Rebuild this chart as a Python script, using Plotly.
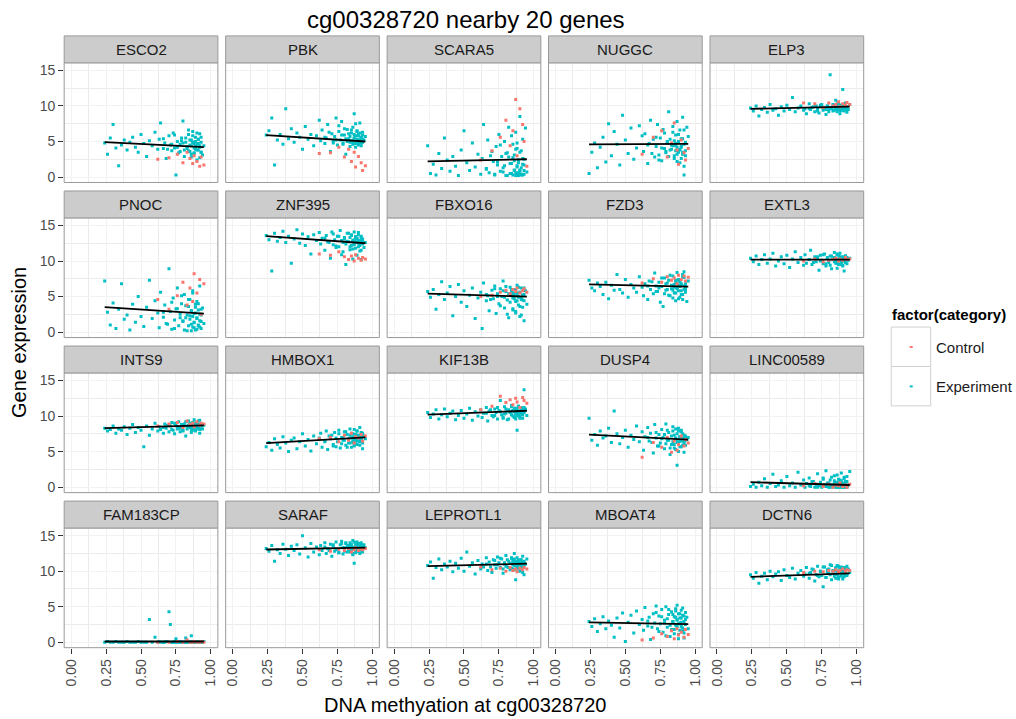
import plotly.graph_objects as go

# ---------------- data ----------------
genes = ["ESCO2", "PBK", "SCARA5", "NUGGC", "ELP3",
         "PNOC", "ZNF395", "FBXO16", "FZD3", "EXTL3",
         "INTS9", "HMBOX1", "KIF13B", "DUSP4", "LINC00589",
         "FAM183CP", "SARAF", "LEPROTL1", "MBOAT4", "DCTN6"]

# methylation at cg00328720 (shared by all genes)
exp_methylation = [0.24, 0.26, 0.28, 0.30, 0.32, 0.34, 0.36, 0.38, 0.40, 0.42,
                   0.44, 0.46, 0.48, 0.50, 0.52, 0.54, 0.56, 0.58, 0.60, 0.62,
                   0.63, 0.64, 0.66, 0.67, 0.68, 0.70, 0.71, 0.72, 0.73, 0.74,
                   0.75, 0.76, 0.77, 0.78, 0.79, 0.80, 0.81, 0.82, 0.83, 0.84,
                   0.85, 0.85, 0.86, 0.86, 0.87, 0.87, 0.88, 0.88, 0.89, 0.89,
                   0.90, 0.90, 0.91, 0.91, 0.92, 0.92, 0.93, 0.93, 0.94, 0.95,
                   0.66, 0.69, 0.72, 0.74, 0.76, 0.78, 0.79, 0.80, 0.81, 0.82,
                   0.83, 0.84, 0.84, 0.85, 0.86, 0.86, 0.87, 0.87, 0.88, 0.88,
                   0.89, 0.89, 0.90, 0.90, 0.91, 0.91, 0.92, 0.92, 0.93, 0.93]
ctrl_methylation = [0.62, 0.70, 0.76, 0.80, 0.83, 0.85, 0.87, 0.88, 0.90, 0.92, 0.93, 0.95]

ESCO2_exp = [4.8, 3.2, 5.5, 7.4, 4.1, 1.6, 4.5, 5.2, 3.8, 4.9,
             5.6, 4.2, 3.5, 6.0, 4.7, 2.9, 5.1, 4.4, 6.3, 3.9,
             5.3, 7.6, 4.0, 4.8, 2.6, 5.8, 4.5, 3.7, 6.2, 4.1,
             0.3, 5.0, 3.4, 4.6, 5.5, 7.9, 3.8, 4.9, 4.3, 6.0,
             3.6, 5.2, 4.4, 2.8, 4.9, 6.4, 3.3, 4.7, 5.6, 3.9,
             4.6, 2.4, 5.3, 3.8, 6.1, 4.2, 3.5, 4.9, 3.1, 4.4,
             5.4, 3.9, 4.6, 5.9, 4.2, 3.6, 5.1, 4.8, 2.9, 5.5,
             4.0, 6.6, 3.7, 4.5, 5.2, 3.2, 4.9, 5.8, 4.1, 3.4,
             5.0, 4.3, 6.2, 3.8, 4.7, 5.3, 2.7, 4.4, 5.6, 3.5]
ESCO2_ctrl = [2.5, 2.7, 3.2, 2.0, 3.5, 2.6, 1.9, 3.0, 2.2, 1.5, 2.8, 1.7]

PBK_exp = [5.9, 6.5, 8.3, 1.7, 5.2, 6.0, 4.6, 9.6, 5.4, 6.8,
           4.9, 6.2, 5.6, 3.9, 7.1, 5.3, 6.0, 4.4, 5.8, 8.0,
           5.1, 6.6, 4.7, 5.5, 7.4, 3.6, 6.1, 5.0, 5.7, 8.3,
           4.5, 6.4, 5.2, 7.8, 4.8, 5.9, 3.2, 6.7, 5.4, 4.9,
           6.2, 5.1, 7.0, 4.6, 5.5, 8.9, 4.2, 5.8, 6.5, 5.0,
           4.7, 6.0, 5.3, 7.6, 4.4, 5.6, 6.3, 4.9, 5.2, 5.7,
           5.6, 6.3, 4.8, 5.2, 7.2, 5.9, 4.6, 6.8, 5.4, 5.0,
           6.1, 4.3, 5.7, 6.6, 5.1, 4.9, 6.0, 5.5, 7.5, 4.7,
           5.3, 6.4, 5.8, 4.5, 5.1, 6.2, 4.8, 5.6, 5.9, 5.3]
PBK_ctrl = [3.3, 3.4, 4.2, 2.8, 3.9, 2.2, 3.5, 1.4, 2.9, 2.0, 0.9, 1.6]

SCARA5_exp = [4.4, 0.5, 1.8, 0.3, 3.3, 1.2, 5.5, 2.4, 0.8, 2.9,
              1.5, 0.2, 3.8, 6.5, 2.0, 0.9, 4.8, 1.4, 3.2, 0.4,
              2.6, 7.4, 1.1, 5.2, 0.6, 3.6, 2.2, 0.3, 4.3, 1.7,
              6.0, 0.8, 2.9, 1.3, 5.0, 0.2, 3.4, 7.0, 1.9, 0.5,
              2.7, 4.6, 0.9, 3.1, 0.2, 6.3, 1.6, 4.0, 0.6, 2.4,
              8.5, 1.0, 3.7, 0.3, 5.3, 1.8, 0.4, 2.5, 6.9, 0.7,
              1.2, 3.0, 0.4, 2.1, 4.5, 0.7, 1.6, 3.3, 0.2, 2.8,
              0.5, 1.9, 5.8, 0.3, 2.3, 1.0, 3.9, 0.6, 1.4, 4.8,
              0.2, 2.0, 0.8, 3.5, 0.4, 1.3, 2.6, 0.3, 1.7, 0.9]
SCARA5_ctrl = [2.4, 3.7, 5.6, 8.0, 4.4, 6.5, 10.9, 3.0, 9.6, 7.4, 5.0, 1.5]

NUGGC_exp = [0.5, 3.5, 4.8, 1.3, 4.2, 5.6, 2.1, 7.5, 3.0, 6.4,
             4.6, 1.7, 8.7, 5.2, 3.3, 6.9, 2.5, 4.1, 7.2, 5.8,
             3.6, 6.1, 1.9, 4.7, 8.0, 5.3, 2.8, 4.3, 7.4, 3.1,
             5.5, 2.3, 6.7, 4.0, 3.4, 5.0, 9.2, 3.8, 4.5, 6.3,
             2.6, 5.1, 3.7, 4.4, 7.8, 3.2, 4.9, 6.0, 2.0, 3.9,
             5.4, 4.2, 8.4, 3.5, 6.6, 0.3, 4.8, 3.0, 7.0, 5.7,
             4.5, 3.3, 5.6, 2.4, 4.1, 6.2, 3.6, 4.8, 2.9, 5.3,
             3.9, 4.4, 7.1, 3.0, 4.7, 5.9, 2.2, 4.2, 3.5, 5.0,
             6.6, 3.8, 4.3, 2.6, 5.4, 3.2, 4.6, 1.5, 3.7, 4.9]
NUGGC_ctrl = [3.2, 5.6, 6.5, 2.8, 4.8, 7.6, 3.8, 1.8, 5.2, 3.4, 2.4, 4.0]

ELP3_exp = [9.7, 9.3, 10.0, 8.6, 9.5, 9.8, 9.1, 10.2, 9.4, 9.6,
            8.7, 9.9, 9.3, 10.1, 9.5, 11.2, 9.2, 9.7, 10.0, 9.4,
            9.6, 8.9, 10.3, 9.5, 9.8, 9.2, 10.0, 9.6, 9.0, 9.9,
            10.2, 9.4, 9.7, 8.8, 10.0, 9.5, 14.4, 9.8, 9.3, 10.1,
            9.6, 10.8, 9.2, 9.9, 10.3, 9.5, 8.9, 9.7, 10.1, 9.4,
            9.8, 12.3, 9.3, 10.0, 9.6, 10.4, 9.1, 9.9, 9.5, 10.2,
            9.6, 9.9, 9.3, 10.1, 9.7, 9.5, 10.0, 9.2, 9.8, 9.6,
            10.2, 9.4, 9.9, 9.7, 10.3, 9.5, 9.8, 10.0, 9.3, 9.7,
            9.9, 10.1, 9.6, 9.4, 10.0, 9.8, 9.5, 10.2, 9.7, 9.9]
ELP3_ctrl = [10.4, 10.3, 9.8, 10.4, 10.0, 10.2, 10.6, 9.9, 10.3, 10.1, 10.5, 10.2]

PNOC_exp = [7.2, 2.8, 1.0, 4.1, 0.5, 3.2, 6.8, 1.8, 2.4, 0.3,
            3.9, 1.4, 5.0, 2.2, 0.8, 3.5, 7.3, 1.9, 4.4, 2.7,
            0.6, 5.6, 2.1, 3.8, 1.2, 8.9, 2.9, 0.4, 4.8, 1.7,
            3.3, 6.2, 0.9, 2.5, 4.0, 1.5, 5.3, 2.0, 0.2, 3.6,
            2.3, 4.6, 1.1, 3.0, 0.7, 5.8, 2.6, 1.4, 3.9, 0.3,
            2.0, 4.3, 0.9, 3.1, 1.6, 6.5, 2.4, 0.5, 3.4, 1.2,
            2.8, 1.1, 4.2, 0.5, 3.3, 2.0, 5.1, 1.6, 0.3, 3.7,
            2.4, 0.9, 4.6, 1.8, 0.2, 3.0, 2.2, 5.5, 1.3, 0.6,
            3.5, 2.7, 0.4, 1.9, 4.0, 1.0, 2.5, 0.7, 3.2, 1.5]
PNOC_ctrl = [4.6, 3.2, 5.1, 7.0, 3.8, 6.2, 4.3, 8.2, 5.5, 7.4, 2.5, 6.8]

ZNF395_exp = [13.6, 13.0, 8.6, 13.9, 12.8, 13.3, 14.2, 12.6, 13.5, 9.7,
              13.1, 14.4, 12.5, 13.8, 12.2, 13.4, 11.0, 13.7, 12.9, 14.0,
              12.4, 13.2, 11.5, 13.6, 12.7, 10.4, 14.1, 12.3, 13.0, 11.9,
              13.5, 12.0, 14.3, 10.9, 12.6, 13.3, 9.5, 12.8, 13.9, 11.6,
              12.2, 13.7, 12.9, 10.3, 14.1, 12.5, 13.4, 11.8, 12.7, 13.2,
              12.0, 14.0, 11.4, 12.8, 13.5, 10.2, 12.4, 13.1, 11.9, 12.6,
              13.2, 12.6, 13.8, 12.1, 13.5, 12.9, 11.3, 13.1, 12.4, 13.9,
              12.7, 13.3, 12.0, 13.6, 12.8, 11.7, 13.0, 12.3, 13.4, 12.6,
              10.8, 13.1, 12.5, 13.7, 12.2, 12.9, 13.3, 11.5, 12.7, 13.0]
ZNF395_ctrl = [11.0, 10.8, 11.3, 10.6, 10.2, 10.7, 10.0, 10.9, 10.4, 10.1, 10.5, 10.3]

FBXO16_exp = [5.7, 4.9, 6.0, 3.2, 5.3, 7.1, 4.6, 5.5, 6.4, 2.3,
              5.0, 6.7, 4.2, 5.8, 3.6, 5.2, 6.2, 1.9, 4.8, 5.6,
              0.5, 6.9, 4.4, 5.1, 3.0, 5.9, 4.7, 6.5, 2.6, 5.4,
              4.0, 6.1, 5.0, 7.2, 3.4, 5.7, 4.5, 2.0, 6.3, 5.3,
              4.8, 3.1, 6.0, 5.5, 2.7, 4.3, 6.6, 5.1, 3.8, 4.9,
              5.6, 2.2, 4.6, 6.2, 3.5, 5.2, 1.6, 4.4, 5.8, 3.9,
              5.3, 4.6, 6.1, 5.0, 3.7, 5.8, 4.9, 6.4, 2.5, 5.4,
              4.2, 5.7, 6.0, 3.3, 5.1, 4.7, 5.9, 2.9, 5.5, 4.4,
              6.3, 5.0, 3.6, 5.6, 4.8, 2.4, 5.2, 4.5, 6.2, 5.3]
FBXO16_ctrl = [5.0, 5.2, 5.6, 5.9, 5.4, 6.0, 5.7, 6.2, 5.5, 5.8, 6.1, 5.6]

FZD3_exp = [7.3, 6.2, 5.8, 6.9, 6.4, 5.3, 7.0, 4.7, 6.6, 5.9,
            8.1, 6.0, 5.5, 7.4, 4.9, 6.7, 6.2, 5.6, 7.8, 6.3,
            5.1, 6.8, 4.6, 7.2, 6.0, 5.4, 8.3, 6.5, 5.7, 7.0,
            4.2, 6.4, 3.6, 7.6, 5.9, 6.9, 5.2, 8.0, 6.1, 4.8,
            6.7, 5.5, 7.3, 4.4, 6.2, 8.4, 5.8, 6.6, 4.9, 7.1,
            5.3, 6.8, 7.7, 4.6, 6.0, 8.5, 5.6, 6.4, 4.3, 7.2,
            6.5, 7.1, 5.7, 6.2, 7.6, 5.4, 6.8, 6.0, 7.3, 5.1,
            6.6, 7.9, 5.9, 6.3, 7.0, 5.5, 6.9, 6.1, 7.4, 4.7,
            6.4, 7.2, 5.8, 6.7, 8.1, 5.3, 6.5, 7.7, 6.0, 6.8]
FZD3_ctrl = [6.9, 7.5, 7.0, 7.8, 7.3, 7.6, 6.8, 8.0, 7.4, 7.9, 7.2, 7.7]

EXTL3_exp = [10.4, 9.9, 10.7, 9.5, 10.2, 10.9, 9.7, 10.3, 11.1, 9.3,
             10.0, 10.6, 9.6, 10.8, 9.1, 10.3, 11.3, 9.8, 10.5, 9.4,
             10.9, 9.7, 10.2, 11.5, 9.5, 10.6, 9.9, 10.4, 8.7, 10.8,
             10.1, 9.6, 11.0, 9.3, 10.5, 9.8, 10.7, 8.9, 10.3, 11.2,
             9.7, 10.4, 9.0, 10.9, 10.0, 9.5, 10.6, 11.1, 9.8, 10.2,
             10.5, 9.4, 10.0, 8.6, 10.7, 9.9, 10.3, 9.6, 10.1, 10.4,
             10.2, 9.8, 10.6, 10.0, 10.9, 9.6, 10.4, 10.1, 9.4, 10.7,
             10.3, 9.9, 10.5, 10.0, 11.0, 9.7, 10.2, 10.8, 9.5, 10.4,
             10.1, 9.9, 10.6, 9.3, 10.3, 10.0, 10.7, 9.8, 10.2, 10.5]
EXTL3_ctrl = [10.0, 10.3, 9.9, 10.1, 10.2, 10.4, 10.0, 10.3, 10.1, 10.5, 10.2, 10.3]

INTS9_exp = [8.3, 7.9, 8.1, 8.6, 7.6, 8.2, 8.0, 8.5, 7.4, 8.3,
             8.8, 7.7, 8.4, 8.0, 5.7, 8.6, 7.3, 8.2, 9.0, 7.9,
             8.5, 8.1, 7.6, 8.9, 8.3, 7.8, 8.6, 9.1, 8.0, 7.5,
             8.7, 8.2, 9.2, 7.8, 8.5, 8.0, 8.9, 7.2, 8.6, 9.3,
             8.4, 8.8, 7.7, 9.0, 8.2, 8.6, 9.5, 8.0, 8.7, 7.9,
             8.5, 9.1, 8.3, 8.8, 7.6, 9.4, 8.6, 8.9, 8.2, 8.7,
             8.4, 8.7, 8.1, 9.0, 8.5, 8.3, 8.8, 7.9, 8.6, 9.2,
             8.2, 8.7, 8.5, 8.9, 8.0, 8.6, 9.1, 8.3, 8.8, 8.4,
             9.0, 8.6, 8.2, 8.9, 8.5, 9.3, 8.7, 8.1, 8.8, 8.6]
INTS9_ctrl = [8.6, 8.9, 9.1, 8.4, 9.3, 8.8, 9.0, 8.5, 9.2, 8.7, 9.0, 8.9]

HMBOX1_exp = [5.7, 6.3, 5.2, 6.8, 6.0, 5.5, 7.1, 6.2, 5.0, 6.6,
              6.9, 5.4, 6.4, 7.5, 5.8, 6.7, 5.1, 7.2, 6.1, 6.9,
              7.6, 5.6, 6.5, 7.9, 5.3, 6.8, 7.3, 6.0, 7.7, 5.7,
              6.4, 8.0, 5.5, 7.0, 6.6, 7.8, 5.9, 7.4, 6.2, 8.2,
              6.9, 5.6, 7.5, 6.3, 8.1, 5.8, 7.1, 6.6, 7.9, 6.0,
              7.3, 6.5, 8.4, 5.9, 7.0, 6.7, 7.6, 5.4, 7.2, 6.8,
              6.4, 7.2, 5.8, 6.9, 7.5, 6.1, 7.0, 6.6, 7.8, 5.6,
              6.8, 7.3, 6.2, 7.6, 6.5, 7.1, 5.9, 6.7, 7.4, 6.3,
              7.9, 6.0, 7.2, 6.6, 7.0, 6.4, 7.7, 6.8, 6.2, 7.3]
HMBOX1_ctrl = [6.8, 7.0, 6.4, 7.3, 6.6, 7.6, 6.2, 7.1, 6.9, 7.4, 6.5, 7.2]

KIF13B_exp = [10.5, 9.8, 10.3, 10.9, 9.6, 10.2, 11.0, 9.9, 10.4, 10.7,
              9.5, 10.1, 10.8, 9.7, 10.3, 11.1, 9.4, 10.6, 10.0, 10.9,
              9.8, 10.4, 11.2, 9.3, 10.7, 10.1, 9.9, 11.0, 10.5, 9.6,
              10.8, 12.2, 10.2, 9.7, 11.3, 10.4, 9.5, 10.9, 10.6, 11.5,
              10.0, 10.7, 9.8, 11.1, 10.4, 9.6, 8.0, 10.9, 10.2, 11.4,
              10.6, 9.9, 11.2, 10.3, 10.8, 9.7, 13.7, 10.5, 11.0, 10.1,
              10.4, 10.9, 10.1, 11.2, 10.6, 9.8, 10.3, 11.0, 10.7, 9.6,
              10.5, 11.3, 10.2, 10.8, 9.9, 10.6, 11.1, 10.3, 10.9, 10.0,
              11.4, 10.4, 10.7, 9.7, 10.5, 11.0, 10.2, 10.8, 10.6, 11.2]
KIF13B_ctrl = [10.9, 11.4, 12.8, 11.9, 12.3, 11.6, 12.5, 12.0, 11.2, 12.6, 12.2, 11.8]

DUSP4_exp = [9.7, 6.6, 7.4, 5.9, 7.9, 6.9, 7.2, 8.3, 6.3, 10.7,
             7.5, 6.1, 7.0, 8.0, 5.6, 7.3, 6.7, 8.6, 6.4, 7.8,
             5.2, 7.1, 8.4, 6.5, 7.6, 4.8, 8.8, 6.9, 5.8, 7.4,
             6.2, 8.1, 7.0, 5.4, 8.9, 6.6, 7.7, 4.6, 6.0, 8.5,
             7.3, 5.5, 6.8, 8.2, 3.1, 6.3, 7.9, 5.0, 7.1, 6.5,
             8.0, 5.7, 6.9, 7.5, 4.9, 6.4, 7.2, 5.9, 6.7, 7.0,
             7.0, 6.3, 7.7, 5.8, 6.8, 7.4, 6.1, 8.0, 6.6, 5.5,
             7.2, 6.4, 7.9, 6.0, 6.9, 5.3, 7.5, 6.7, 8.3, 6.2,
             5.7, 7.1, 6.5, 7.8, 5.9, 6.8, 7.3, 6.1, 6.6, 7.0]
DUSP4_ctrl = [4.2, 6.3, 5.6, 7.0, 4.9, 6.5, 5.2, 6.0, 7.2, 5.8, 6.7, 6.2]

LINC00589_exp = [0.1, 0.4, 0.0, 0.7, 0.2, 1.2, 0.0, 0.5, 1.8, 0.1,
                 0.3, 0.9, 0.0, 1.5, 0.2, 0.6, 0.0, 2.1, 0.3, 1.0,
                 0.0, 0.5, 1.3, 0.1, 0.8, 0.0, 0.4, 1.9, 0.2, 0.7,
                 0.0, 1.1, 0.3, 2.3, 0.1, 0.6, 0.0, 1.4, 0.2, 0.9,
                 0.0, 0.4, 1.7, 0.1, 0.6, 0.0, 1.0, 0.3, 2.0, 0.0,
                 0.5, 0.1, 1.2, 0.0, 0.8, 0.2, 0.0, 1.5, 0.3, 2.2,
                 0.2, 0.8, 0.0, 0.4, 1.3, 0.1, 0.6, 0.0, 1.0, 0.3,
                 0.0, 0.5, 1.6, 0.2, 0.0, 0.7, 0.3, 1.1, 0.0, 0.4,
                 0.9, 0.1, 0.0, 0.6, 1.4, 0.2, 0.0, 0.5, 0.8, 0.1]
LINC00589_ctrl = [0.2, 0.5, 0.1, 0.4, 0.0, 0.3, 0.2, 0.6, 0.1, 0.3, 0.0, 0.4]

FAM183CP_exp = [0.0, 0.1, 0.0, 0.0, 0.1, 0.0, 0.0, 0.0, 0.1, 0.0,
                0.0, 0.0, 0.1, 0.0, 0.0, 0.0, 3.2, 0.0, 0.7, 0.0,
                0.1, 0.0, 0.0, 0.0, 0.1, 4.3, 2.5, 0.0, 0.0, 0.1,
                0.5, 0.0, 0.0, 0.1, 0.0, 0.0, 0.0, 0.6, 0.0, 0.0,
                0.0, 0.1, 0.0, 0.9, 0.0, 0.0, 0.1, 0.0, 0.0, 0.0,
                0.0, 0.0, 0.1, 0.0, 0.0, 0.1, 0.0, 0.0, 0.0, 0.1,
                0.0, 0.1, 0.0, 0.0, 0.0, 0.1, 0.0, 0.0, 0.0, 0.0,
                0.1, 0.0, 0.0, 0.0, 0.0, 0.0, 0.1, 0.0, 0.0, 0.0,
                0.0, 0.0, 0.1, 0.0, 0.0, 0.0, 0.0, 0.1, 0.0, 0.0]
FAM183CP_ctrl = [0.0, 0.0, 0.1, 0.0, 0.3, 0.0, 0.0, 0.1, 0.0, 0.0, 0.1, 0.0]

SARAF_exp = [13.2, 12.8, 13.6, 11.4, 13.0, 12.5, 13.8, 13.1, 12.2, 13.5,
             12.9, 13.7, 12.4, 15.0, 13.3, 12.0, 13.9, 12.7, 13.4, 12.3,
             13.6, 12.9, 14.0, 12.5, 13.2, 13.8, 12.1, 13.5, 12.8, 14.1,
             13.0, 12.6, 13.7, 14.2, 12.4, 13.3, 13.9, 12.7, 13.6, 14.0,
             12.9, 13.5, 12.3, 14.3, 13.1, 11.1, 13.8, 12.6, 13.4, 14.1,
             13.2, 12.8, 13.9, 12.5, 13.6, 14.0, 13.0, 12.7, 13.7, 13.3,
             13.4, 12.9, 13.7, 13.1, 12.6, 13.9, 13.3, 12.8, 14.0, 13.5,
             13.0, 13.6, 12.7, 13.8, 13.2, 12.5, 13.4, 14.1, 12.9, 13.3,
             13.7, 12.8, 13.1, 13.9, 12.6, 13.5, 13.0, 13.8, 12.9, 13.4]
SARAF_ctrl = [13.0, 12.8, 13.1, 12.9, 13.2, 12.7, 13.0, 13.3, 12.9, 13.1, 13.0, 13.2]

LEPROTL1_exp = [10.8, 11.3, 9.0, 10.5, 11.7, 10.2, 11.0, 10.6, 11.4, 9.9,
                11.1, 10.4, 11.8, 10.0, 12.7, 10.7, 11.2, 9.6, 11.5, 10.3,
                11.0, 10.6, 11.9, 10.1, 11.3, 9.8, 11.6, 10.9, 10.4, 12.0,
                11.2, 10.5, 11.7, 9.7, 11.0, 12.2, 10.6, 11.4, 10.2, 11.8,
                10.9, 11.5, 10.3, 12.5, 8.8, 11.1, 10.7, 11.9, 10.4, 11.3,
                11.6, 10.0, 11.2, 10.8, 12.1, 10.5, 11.4, 9.5, 11.0, 11.7,
                11.0, 10.6, 11.5, 10.9, 11.8, 10.3, 11.2, 10.7, 11.6, 10.5,
                11.1, 11.9, 10.4, 11.3, 10.8, 11.7, 10.2, 11.4, 11.0, 10.6,
                11.5, 10.9, 11.2, 10.1, 11.6, 10.7, 11.3, 9.8, 11.1, 10.8]
LEPROTL1_ctrl = [10.6, 10.2, 10.4, 10.0, 10.5, 10.1, 10.3, 9.9, 10.4, 10.2, 10.5, 10.3]

MBOAT4_exp = [2.9, 2.2, 3.3, 1.5, 2.6, 3.6, 1.9, 3.0, 2.4, 0.7,
              3.4, 2.0, 4.1, 0.1, 2.8, 3.8, 1.3, 4.4, 2.5, 3.2,
              1.7, 4.9, 2.3, 3.5, 0.4, 4.0, 2.7, 5.1, 1.9, 3.7,
              2.6, 4.6, 1.4, 3.1, 5.0, 2.1, 3.9, 0.8, 4.3, 2.9,
              3.6, 1.8, 4.7, 2.4, 3.2, 5.2, 1.1, 4.0, 2.7, 3.4,
              2.2, 4.5, 1.6, 3.8, 2.9, 0.6, 4.2, 2.5, 3.5, 1.9,
              3.0, 2.1, 4.2, 1.5, 3.6, 2.7, 0.9, 3.3, 4.6, 2.4,
              1.8, 3.9, 2.9, 1.2, 3.5, 4.4, 2.2, 3.1, 0.5, 2.6,
              4.0, 1.7, 3.4, 2.8, 4.8, 2.0, 3.7, 1.3, 2.5, 3.2]
MBOAT4_ctrl = [0.3, 0.6, 1.2, 0.8, 1.6, 0.5, 1.9, 1.0, 1.4, 0.7, 1.8, 1.1]

DCTN6_exp = [9.5, 9.0, 9.8, 8.3, 9.3, 9.7, 8.8, 10.0, 9.2, 9.6,
             9.9, 8.7, 10.2, 9.4, 9.1, 10.4, 8.9, 9.7, 10.1, 9.3,
             9.6, 10.5, 9.0, 9.8, 10.3, 8.6, 9.5, 10.7, 9.2, 10.0,
             9.4, 7.8, 10.6, 9.1, 10.2, 9.7, 10.9, 8.8, 10.1, 9.6,
             10.3, 9.0, 10.8, 9.5, 10.0, 8.9, 10.4, 9.8, 10.6, 9.3,
             10.1, 9.6, 10.5, 9.2, 10.2, 9.9, 10.7, 9.4, 10.3, 9.8,
             9.7, 10.2, 9.4, 10.0, 10.6, 9.1, 9.8, 10.3, 9.5, 10.8,
             9.9, 10.1, 9.3, 10.5, 9.6, 10.0, 10.7, 9.2, 9.9, 10.4,
             9.7, 10.2, 8.9, 10.1, 9.8, 10.5, 9.4, 10.0, 10.3, 9.6]
DCTN6_ctrl = [9.8, 10.0, 9.9, 10.1, 10.0, 10.2, 9.9, 10.1, 10.3, 10.0, 10.2, 10.1]

# linear fit (lm) line ends, at methylation 0.24 and 0.95
fit_x = [0.24, 0.95]
fit_start = [4.9, 5.9, 2.2, 4.6, 9.6, 3.5, 13.5, 5.4, 6.7, 10.2,
             8.3, 6.2, 10.2, 7.4, 0.7, 0.1, 13.05, 10.7, 2.8, 9.2]
fit_end = [4.2, 5.0, 2.5, 4.65, 9.9, 2.6, 12.5, 5.0, 6.4, 10.2,
           8.7, 7.0, 10.75, 6.7, 0.3, 0.1, 13.3, 11.05, 2.55, 9.7]

exp_series = [ESCO2_exp, PBK_exp, SCARA5_exp, NUGGC_exp, ELP3_exp,
              PNOC_exp, ZNF395_exp, FBXO16_exp, FZD3_exp, EXTL3_exp,
              INTS9_exp, HMBOX1_exp, KIF13B_exp, DUSP4_exp, LINC00589_exp,
              FAM183CP_exp, SARAF_exp, LEPROTL1_exp, MBOAT4_exp, DCTN6_exp]
ctrl_series = [ESCO2_ctrl, PBK_ctrl, SCARA5_ctrl, NUGGC_ctrl, ELP3_ctrl,
               PNOC_ctrl, ZNF395_ctrl, FBXO16_ctrl, FZD3_ctrl, EXTL3_ctrl,
               INTS9_ctrl, HMBOX1_ctrl, KIF13B_ctrl, DUSP4_ctrl, LINC00589_ctrl,
               FAM183CP_ctrl, SARAF_ctrl, LEPROTL1_ctrl, MBOAT4_ctrl, DCTN6_ctrl]
for g, e, c in zip(genes, exp_series, ctrl_series):
    assert len(e) == len(exp_methylation), (g, len(e))
    assert len(c) == len(ctrl_methylation), (g, len(c))

x_ticks = [0, 0.25, 0.5, 0.75, 1.0]
x_tick_labels = ["0.00", "0.25", "0.50", "0.75", "1.00"]
y_ticks = [0, 5, 10, 15]

# ---------------- layout ----------------
W, H = 1016, 719
FONT = "Liberation Sans, Arial, sans-serif"
EXP_COL = "#00BFC4"
CTRL_COL = "#F8766D"
BORDER = "#999999"

col_left = [63.3, 225.1, 386.9, 548.6, 710.4]
panel_w = 154
strip_top = [36, 191.5, 347, 502.5]
strip_h = 27
panel_h = 120

fig = go.Figure()
shapes, annotations = [], []
axes = {}

for i, gene in enumerate(genes):
    r, c = divmod(i, 5)
    k = i + 1
    sfx = "" if k == 1 else str(k)
    xref, yref = "x" + sfx, "y" + sfx
    px0 = col_left[c]
    px1 = px0 + panel_w
    st = strip_top[r]
    py0 = st + strip_h
    py1 = py0 + panel_h

    bottom_row = (r == 3)
    left_col = (c == 0)
    axes["xaxis" + sfx] = dict(
        domain=[px0 / W, px1 / W], anchor=yref, range=[-0.05, 1.05],
        tickvals=x_ticks, ticktext=x_tick_labels, showticklabels=bottom_row,
        tickangle=-90, ticks="outside" if bottom_row else "", ticklen=5,
        tickwidth=1, tickcolor="#333333",
        tickfont=dict(family=FONT, size=14, color="#4D4D4D"),
        showgrid=True, gridcolor="#F2F2F2", gridwidth=1,
        minor=dict(tickvals=[0.125, 0.375, 0.625, 0.875], showgrid=True,
                   gridcolor="#EBEBEB", gridwidth=1),
        zeroline=False, showline=False, fixedrange=True)
    axes["yaxis" + sfx] = dict(
        domain=[1 - py1 / H, 1 - py0 / H], anchor=xref, range=[-0.77, 16.07],
        tickvals=y_ticks, showticklabels=left_col,
        ticks="outside" if left_col else "", ticklen=5, tickwidth=1,
        tickcolor="#333333",
        tickfont=dict(family=FONT, size=14, color="#4D4D4D"),
        showgrid=True, gridcolor="#F2F2F2", gridwidth=1,
        minor=dict(tickvals=[2.5, 7.5, 12.5], showgrid=True,
                   gridcolor="#EBEBEB", gridwidth=1),
        zeroline=False, showline=False, fixedrange=True)

    fig.add_trace(go.Scatter(
        x=exp_methylation, y=exp_series[i], xaxis=xref, yaxis=yref,
        mode="markers", showlegend=False, hoverinfo="skip",
        marker=dict(symbol="square", size=3, color=EXP_COL, line=dict(width=0))))
    fig.add_trace(go.Scatter(
        x=ctrl_methylation, y=ctrl_series[i], xaxis=xref, yaxis=yref,
        mode="markers", showlegend=False, hoverinfo="skip",
        marker=dict(symbol="square", size=3, color=CTRL_COL, line=dict(width=0))))
    fig.add_trace(go.Scatter(
        x=fit_x, y=[fit_start[i], fit_end[i]], xaxis=xref, yaxis=yref,
        mode="lines", showlegend=False, hoverinfo="skip",
        line=dict(color="black", width=1.8)))

    # panel border
    shapes.append(dict(type="rect", xref="paper", yref="paper",
                       x0=px0 / W, x1=px1 / W, y0=1 - py1 / H, y1=1 - py0 / H,
                       line=dict(color=BORDER, width=1), layer="above"))
    # strip
    shapes.append(dict(type="rect", xref="paper", yref="paper",
                       x0=px0 / W, x1=px1 / W, y0=1 - py0 / H, y1=1 - st / H,
                       fillcolor="#CCCCCC", line=dict(color=BORDER, width=1),
                       layer="above"))
    annotations.append(dict(text=gene, xref="paper", yref="paper",
                            x=(px0 + px1) / 2 / W, y=1 - (st + strip_h / 2) / H,
                            xanchor="center", yanchor="middle", showarrow=False,
                            font=dict(family=FONT, size=15, color="#1A1A1A")))

# titles
annotations.append(dict(text="cg00328720 nearby 20 genes", xref="paper", yref="paper",
                        x=466 / W, y=1 - 20 / H, xanchor="center", yanchor="middle",
                        showarrow=False, font=dict(family=FONT, size=24, color="black")))
annotations.append(dict(text="DNA methyation at cg00328720", xref="paper", yref="paper",
                        x=465 / W, y=1 - 707 / H, xanchor="center", yanchor="middle",
                        showarrow=False, font=dict(family=FONT, size=20, color="black")))
annotations.append(dict(text="Gene expression", xref="paper", yref="paper",
                        x=18 / W, y=1 - 343 / H, xanchor="center", yanchor="middle",
                        textangle=-90, showarrow=False,
                        font=dict(family=FONT, size=20, color="black")))

# legend (drawn manually)
annotations.append(dict(text="<b>factor(category)</b>", xref="paper", yref="paper",
                        x=891 / W, y=1 - 315 / H, xanchor="left", yanchor="middle",
                        showarrow=False, font=dict(family=FONT, size=15, color="black")))
legend_items = [("Control", CTRL_COL, 328), ("Experiment", EXP_COL, 367.5)]
for label, col, top in legend_items:
    shapes.append(dict(type="rect", xref="paper", yref="paper",
                       x0=892 / W, x1=931.5 / W, y0=1 - (top + 39.5) / H, y1=1 - top / H,
                       fillcolor="white", line=dict(color="#D0D0D0", width=1)))
    cy = top + 20
    shapes.append(dict(type="rect", xref="paper", yref="paper",
                       x0=910.5 / W, x1=913.5 / W, y0=1 - (cy + 1) / H, y1=1 - (cy - 1) / H,
                       fillcolor=col, line=dict(width=0)))
    annotations.append(dict(text=label, xref="paper", yref="paper",
                            x=935 / W, y=1 - cy / H, xanchor="left", yanchor="middle",
                            showarrow=False, font=dict(family=FONT, size=15, color="#1A1A1A")))

fig.update_layout(
    width=W, height=H, margin=dict(l=0, r=0, t=0, b=0),
    paper_bgcolor="white", plot_bgcolor="white",
    showlegend=False, shapes=shapes, annotations=annotations, **axes)

fig.write_html("out.html")
